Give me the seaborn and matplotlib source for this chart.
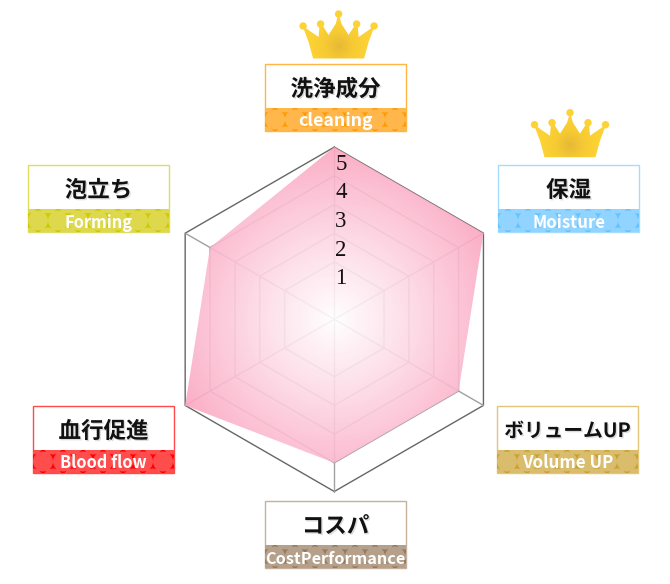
import matplotlib
matplotlib.use('Agg')
import matplotlib.pyplot as plt
import matplotlib.patheffects as pe
from matplotlib.colors import LinearSegmentedColormap
from matplotlib.patches import Circle, Polygon, Rectangle
import numpy as np
import pandas as pd
import seaborn as sns

# chart values, clockwise from the top
categories = ['洗浄成分', '保湿', 'ボリュームUP', 'コスパ', '血行促進', '泡立ち']
english = ['cleaning', 'Moisture', 'Volume UP', 'CostPerformance', 'Blood flow', 'Forming']
scores = [5, 5, 4, 4, 5, 4]
rings = [1, 2, 3, 4, 5]
crowned = [True, True, False, False, True, False]

# label box layout: left, top of the box, and colours
box_left = [265, 498, 497, 265, 33, 28]
box_top = [64, 165, 406, 501, 406, 165]
band_colors = ['#ff9900', '#62c2ff', '#c9a12e', '#96785a', '#ff0000', '#cfc800']
border_colors = ['#ffb444', '#a5dcff', '#e0c676', '#c6b09c', '#ff4a4a', '#e0dc60']
title_sizes = [16.2, 16.2, 14.2, 16.2, 16.2, 16.2]
band_sizes = [12.8, 12, 12.2, 11.7, 11.8, 11.8]
crown_pos = [(338.6, 14), (570, 112.7), (109, 356)]

CX, CY = 334.3, 319.3
STEP = 28.7

sns.set_theme(style='white')
plt.rcParams['font.family'] = ['Noto Sans CJK JP', 'DejaVu Sans']

angles = np.deg2rad(np.arange(len(categories)) * 60)


def radar_xy(values):
    # score 1 sits two steps out from the centre
    r = (np.asarray(values, dtype=float) + 1) * STEP
    return CX + r * np.sin(angles), CY - r * np.cos(angles)


def closed(a):
    return np.append(a, a[0])


def radial_fill(ax, patch, cmap, x0, y0, radius, extent, alpha=1.0):
    xs = np.linspace(extent[0], extent[1], 300)
    ys = np.linspace(extent[2], extent[3], 300)
    gx, gy = np.meshgrid(xs, ys)
    d = np.clip(np.hypot(gx - x0, gy - y0) / radius, 0, 1)
    im = ax.imshow(d, cmap=cmap, vmin=0, vmax=1, alpha=alpha, origin='upper',
                   extent=(extent[0], extent[1], extent[3], extent[2]),
                   zorder=patch.get_zorder(), aspect='auto')
    ax.add_patch(patch)
    im.set_clip_path(patch)


fig = plt.figure(figsize=(6.7, 5.84), dpi=100)
ax = fig.add_axes([0, 0, 1, 1])

# grid as a long table for seaborn
grid_rows = []
for ring in rings:
    x, y = radar_xy([ring] * 6)
    for i, (a, b) in enumerate(zip(closed(x), closed(y))):
        grid_rows.append({'x': a, 'y': b, 'ring': ring, 'order': i})
grid = pd.DataFrame(grid_rows)
sns.lineplot(data=grid[grid.ring < 5], x='x', y='y', units='ring', estimator=None, sort=False,
             color='#a0a0a0', linewidth=1, ax=ax, legend=False, zorder=2)
sns.lineplot(data=grid[grid.ring == 5], x='x', y='y', units='ring', estimator=None, sort=False,
             color='#666666', linewidth=1, ax=ax, legend=False, zorder=2)
ox, oy = radar_xy([5] * 6)
for a, b in zip(ox, oy):
    ax.plot([CX, a], [CY, b], color='#a0a0a0', linewidth=1, zorder=2)

# score area
sx, sy = radar_xy(scores)
pink = LinearSegmentedColormap.from_list('pink', ['#ffffff', '#fdd4e2', '#fba6c1'])
area = Polygon(np.column_stack([sx, sy]), closed=True, facecolor='none', edgecolor='none', zorder=3)
radial_fill(ax, area, pink, CX, CY, 172, (150, 500, 140, 500), alpha=0.9)

# ring numbers
for ring in rings:
    ax.text(341, CY - (ring + 1) * STEP + 17, str(ring), family='Liberation Serif', fontsize=16.5,
            color='#111111', ha='center', va='center', zorder=5)

# label boxes
for name, eng, left, top, band, border, ts, bs in zip(categories, english, box_left, box_top, band_colors,
                                                      border_colors, title_sizes, band_sizes):
    w, h, band_h = 141, 67, 23
    mid = top + h - band_h / 2
    ax.add_patch(Rectangle((left, top), w, h, facecolor='white', edgecolor=border, linewidth=1, zorder=2))
    strip = Rectangle((left, top + h - band_h), w, band_h, facecolor=band, edgecolor='none', zorder=3)
    ax.add_patch(strip)
    # polka dots: main row with staggered rows above and below
    for dy, shift in [(0, 0), (-17, 10), (17, 10)]:
        for k in range(-1, 9):
            dot = Circle((left + 10 + shift + k * 20, mid + dy), 10, facecolor='white', alpha=0.3,
                         edgecolor='none', zorder=3.5)
            ax.add_patch(dot)
            dot.set_clip_path(strip)
    ax.text(left + w / 2, top + (h - band_h) / 2 + 3.5, name, fontsize=ts, fontweight='bold', color='#111111',
            ha='center', va='center', zorder=5,
            path_effects=[pe.withSimplePatchShadow(offset=(1, -1), alpha=0.2, shadow_rgbFace='#555555')])
    ax.text(left + w / 2, mid + 2, eng, fontsize=bs, fontweight='bold', color='white',
            ha='center', va='center', zorder=5)

# crowns above the top scoring items
gold = LinearSegmentedColormap.from_list('gold', ['#e6b936', '#f6ca33', '#fdd235'])
balls = [(-35.5, 12), (-18, 10), (0, 0), (18, 10), (35.5, 12)]
outline = [(-36, 12), (-20, 23), (-19, 10), (-17, 10), (-10, 21), (-3, 10), (0, 0), (3, 10), (10, 21),
           (17, 10), (19, 10), (20, 23), (36, 12), (30, 28), (25.5, 44.5), (-25.5, 44.5), (-30, 28)]
crown_centers = [c for c, flag in zip(crown_pos, crowned) if flag]
for cx, top in crown_centers:
    pts = [(cx + a, top + b) for a, b in outline]
    shape = Polygon(pts, closed=True, facecolor='none', edgecolor='none', zorder=4)
    radial_fill(ax, shape, gold, cx, top + 32, 28, (cx - 40, cx + 40, top - 4, top + 47))
    for a, b in balls:
        ax.add_patch(Circle((cx + a, top + b), 3.7, facecolor='#fdd235', edgecolor='none', zorder=4))

ax.set_xlim(0, 670)
ax.set_ylim(584, 0)
ax.axis('off')
fig.savefig('out.png', dpi=100, facecolor='white')
